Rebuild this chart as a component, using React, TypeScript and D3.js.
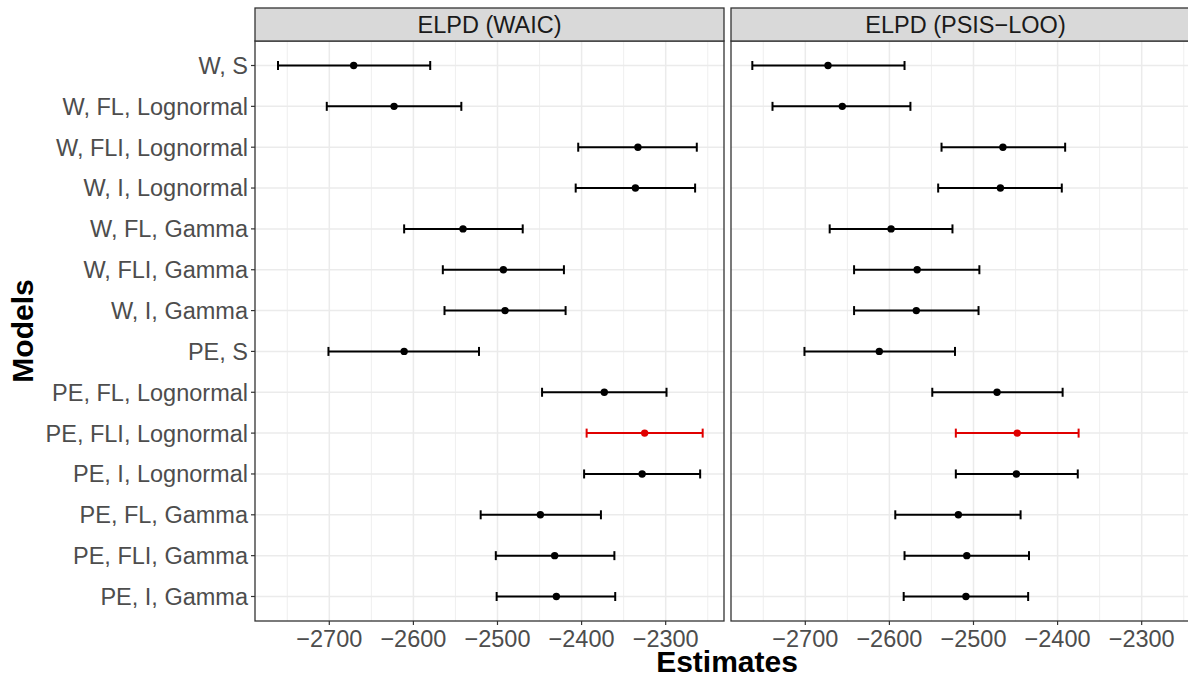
import React from "react";
import * as d3 from "d3";

const models = [
  "W, S",
  "W, FL, Lognormal",
  "W, FLI, Lognormal",
  "W, I, Lognormal",
  "W, FL, Gamma",
  "W, FLI, Gamma",
  "W, I, Gamma",
  "PE, S",
  "PE, FL, Lognormal",
  "PE, FLI, Lognormal",
  "PE, I, Lognormal",
  "PE, FL, Gamma",
  "PE, FLI, Gamma",
  "PE, I, Gamma",
];

const waicEst = [-2671, -2623, -2333, -2336, -2541, -2493, -2491, -2611, -2373, -2325, -2328, -2449, -2432, -2430];
const waicLo = [-2761, -2703, -2404, -2407, -2611, -2565, -2563, -2701, -2447, -2394, -2397, -2520, -2502, -2501];
const waicHi = [-2580, -2543, -2263, -2265, -2470, -2421, -2419, -2522, -2299, -2256, -2259, -2377, -2361, -2360];

const looEst = [-2673, -2656, -2465, -2468, -2598, -2567, -2568, -2612, -2472, -2448, -2449, -2518, -2508, -2509];
const looLo = [-2763, -2739, -2538, -2542, -2671, -2642, -2642, -2701, -2549, -2521, -2521, -2593, -2582, -2583];
const looHi = [-2582, -2575, -2391, -2395, -2525, -2493, -2494, -2522, -2394, -2375, -2376, -2444, -2434, -2435];

const panels = ["ELPD (WAIC)", "ELPD (PSIS\u2212LOO)"];
const xTicks = [-2700, -2600, -2500, -2400, -2300];
const xMinor = [-2750, -2650, -2550, -2450, -2350, -2250];
const highlight = "PE, FLI, Lognormal";

const width = 1188;
const height = 676;
const font = "'Liberation Sans', Arial, Helvetica, sans-serif";

const panelLeft = [255, 731];
const panelW = 469;
const stripTop = 8;
const panelTop = 41;
const panelBottom = 621;

const fmt = (v: number) => String(v).replace("-", "\u2212");

const allVals = [...waicLo, ...waicHi, ...looLo, ...looHi];
const [mn, mx] = d3.extent(allVals) as [number, number];
const pad = (mx - mn) * 0.05;

const y = d3.scalePoint<string>().domain(models).range([panelTop, panelBottom]).padding(0.6);

const series = [
  { est: waicEst, lo: waicLo, hi: waicHi },
  { est: looEst, lo: looLo, hi: looHi },
];

const App: React.FC = () => {
  return (
    <div style={{ position: "fixed", left: 0, top: 0 }}>
      <svg width={width} height={height} style={{ display: "block", background: "#fff" }}>
        <rect width={width} height={height} fill="#fff" />
        {panels.map((title, pi) => {
          const x0 = panelLeft[pi];
          const x = d3.scaleLinear().domain([mn - pad, mx + pad]).range([x0, x0 + panelW]);
          const s = series[pi];
          return (
            <g key={title}>
              {/* grid */}
              {xMinor.map((t) => (
                <line key={"mi" + t} x1={x(t)} x2={x(t)} y1={panelTop} y2={panelBottom} stroke="#EBEBEB" strokeWidth={0.8} />
              ))}
              {models.map((m) => (
                <line key={"gy" + m} x1={x0} x2={x0 + panelW} y1={y(m)} y2={y(m)} stroke="#EBEBEB" strokeWidth={1.5} />
              ))}
              {xTicks.map((t) => (
                <line key={"ma" + t} x1={x(t)} x2={x(t)} y1={panelTop} y2={panelBottom} stroke="#EBEBEB" strokeWidth={1.5} />
              ))}
              {/* error bars */}
              {models.map((m, i) => {
                const c = m === highlight ? "#E00000" : "#000";
                const yy = y(m) as number;
                return (
                  <g key={"eb" + m}>
                    <line x1={x(s.lo[i])} x2={x(s.hi[i])} y1={yy} y2={yy} stroke={c} strokeWidth={2} />
                    <line x1={x(s.lo[i])} x2={x(s.lo[i])} y1={yy - 4.5} y2={yy + 4.5} stroke={c} strokeWidth={2} />
                    <line x1={x(s.hi[i])} x2={x(s.hi[i])} y1={yy - 4.5} y2={yy + 4.5} stroke={c} strokeWidth={2} />
                    <circle cx={x(s.est[i])} cy={yy} r={3.7} fill={c} />
                  </g>
                );
              })}
              {/* panel border */}
              <rect x={x0} y={panelTop} width={panelW} height={panelBottom - panelTop} fill="none" stroke="#333333" strokeWidth={1.3} />
              {/* strip */}
              <rect x={x0} y={stripTop} width={panelW} height={panelTop - stripTop} fill="#D9D9D9" stroke="#333333" strokeWidth={1.3} />
              <text x={x0 + panelW / 2} y={33} textAnchor="middle" fontFamily={font} fontSize={23.5} fill="#1A1A1A">
                {title}
              </text>
              {/* x axis */}
              {xTicks.map((t) => (
                <g key={"xt" + t}>
                  <line x1={x(t)} x2={x(t)} y1={panelBottom} y2={panelBottom + 4} stroke="#333333" strokeWidth={1.2} />
                  <text x={x(t)} y={647} textAnchor="middle" fontFamily={font} fontSize={23.5} fill="#4D4D4D">
                    {fmt(t)}
                  </text>
                </g>
              ))}
            </g>
          );
        })}
        {/* y axis */}
        {models.map((m) => (
          <g key={"yt" + m}>
            <line x1={panelLeft[0] - 4} x2={panelLeft[0]} y1={y(m)} y2={y(m)} stroke="#333333" strokeWidth={1.2} />
            <text x={248} y={(y(m) as number) + 8.4} textAnchor="end" fontFamily={font} fontSize={23.5} fill="#4D4D4D">
              {m}
            </text>
          </g>
        ))}
        <text x={727} y={672} textAnchor="middle" fontFamily={font} fontSize={30} fontWeight="bold" fill="#000">
          Estimates
        </text>
        <text
          transform={`translate(33, ${(panelTop + panelBottom) / 2}) rotate(-90)`}
          textAnchor="middle"
          fontFamily={font}
          fontSize={30}
          fontWeight="bold"
          fill="#000"
        >
          Models
        </text>
      </svg>
    </div>
  );
};

export default App;
